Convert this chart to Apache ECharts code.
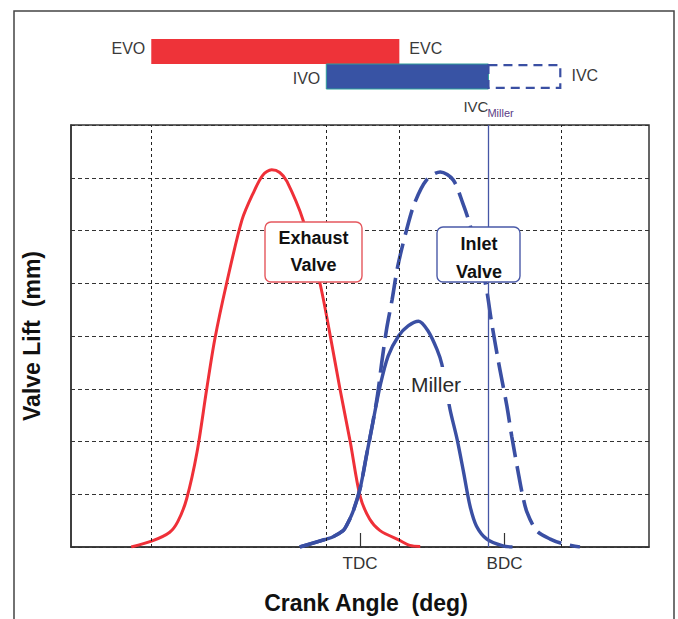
<!DOCTYPE html>
<html><head><meta charset="utf-8">
<script src="https://cdn.jsdelivr.net/npm/echarts@6/dist/echarts.min.js"></script>
<style>html,body{margin:0;padding:0;background:#fff}#c{width:678px;height:619px}</style>
</head><body><div id="c"></div>
<script>
// ---- data (crank angle in degrees, TDC = 0; valve lift in mm) ----
const exhaustAngle = [-285,-258,-237,-227,-216,-203,-191,-181,-166,-147,-133,-121,-110,-100,-91,-71,-50,-37,-25,-12,0,12,25,50,62,75];
const exhaustLift  = [0,0.12,0.28,0.48,0.91,1.8,2.99,3.93,5.01,6.2,6.71,7.05,7.15,7.1,6.93,6.2,5.01,4.0,3.0,1.98,0.97,0.53,0.31,0.12,0.03,0.01];

const inletAngle = [-75,-42,-34,-21,-17,-9,0,8,16,22,27,33,40,47,58,68,83,100,116,128,137,156,164,172,177,183,189,197,202,208,220,237,253,274];
const inletLift  = [0,0.15,0.19,0.31,0.40,0.66,1.10,1.73,2.36,2.9,3.49,4.12,4.69,5.32,6.01,6.52,6.96,7.11,6.96,6.52,6.11,5.01,4.25,3.55,3.15,2.67,2.1,1.42,1.02,0.66,0.31,0.15,0.06,0];

const millerAngle = [-75,-42,-34,-21,-17,-9,0,8,16,25,35,48,60,73,85,96,102,112,121,129,137,145,158,178,190];
const millerLift  = [0,0.15,0.19,0.31,0.40,0.66,1.10,1.73,2.36,3.05,3.62,4.0,4.19,4.28,4.09,3.74,3.46,2.62,2.04,1.42,0.78,0.40,0.15,0.02,0];

const eventNames  = ['EVO','EVC','IVO','IVC_Miller','IVC'];
const eventAngles = [-260, 49, -42, 160, 251];

const tickLabels = ['TDC','BDC'];
const tickAngles = [0, 180];

// ---- helpers ----
const FONT = "'Liberation Sans', Arial, sans-serif";
const ang = n => eventAngles[eventNames.indexOf(n)];
const zip = (a, b) => a.map((v, i) => [v, b[i]]);

// bars: [start, end, row, leftLabel, rightLabel, kind]
const barData = [
  [ang('EVO'), ang('EVC'), 0, 'EVO', 'EVC', 'exh'],
  [ang('IVO'), ang('IVC_Miller'), 1, 'IVO', '', 'inl'],
  [ang('IVC_Miller'), ang('IVC'), 1, '', 'IVC', 'ext']
];

function labelStyle(text, align, size, color, weight) {
  return {text, fill: color || '#3a3a3a', font: (weight ? weight + ' ' : '') + size + 'px ' + FONT,
          align, textAlign: align, verticalAlign: 'middle', textVerticalAlign: 'middle'};
}

function renderBar(params, api) {
  const d = barData[params.dataIndex];
  const p0 = api.coord([d[0], d[2]]);
  const p1 = api.coord([d[1], d[2]]);
  const h = api.size([0, 1])[1];
  const y0 = p0[1] - h / 2;
  const children = [];
  let style, inset = 0;
  if (d[5] === 'exh') style = {fill: '#EE3339'};
  else if (d[5] === 'inl') style = {fill: '#3853A4', stroke: '#2E9E9A', lineWidth: 1};
  else { style = {fill: 'none', stroke: '#3A4FA3', lineWidth: 2.2, lineDash: [9, 6]}; inset = 1.2; }
  children.push({type: 'rect', shape: {x: p0[0], y: y0 + inset, width: p1[0] - p0[0] - inset, height: h - 2 * inset}, style});
  const dy = d[2] === 0 ? -3 : 0;
  if (d[3]) children.push({type: 'text', x: p0[0] - 6, y: p0[1] + dy + (d[2] ? 1.5 : 0), style: labelStyle(d[3], 'right', 16)});
  if (d[4]) children.push({type: 'text', x: p1[0] + 10, y: p1[1] + dy - (d[2] ? 1.5 : 0), style: labelStyle(d[4], 'left', 16)});
  if (d[5] === 'inl') {
    children.push({type: 'text', x: p1[0], y: y0 + h + 17, style: labelStyle('IVC', 'right', 15)});
    children.push({type: 'text', x: p1[0] - 1, y: y0 + h + 23.5, style: labelStyle('Miller', 'left', 11, '#5b3b85')});
  }
  return {type: 'group', children};
}

const chart = echarts.init(document.getElementById('c'), null, {renderer: 'svg'});

const Z = 100;
const option = {
  animation: false,
  backgroundColor: '#fff',
  textStyle: {fontFamily: FONT},
  grid: [
    {left: 71, right: 29, top: 125, bottom: 71, show: true, borderColor: '#333', borderWidth: 1.5, backgroundColor: 'transparent'},
    {left: 71, right: 29, top: 39, height: 50, show: false}
  ],
  xAxis: [
    {
      type: 'value', gridIndex: 0, min: -360, max: 360,
      name: 'Crank Angle  (deg)', nameLocation: 'middle', nameGap: 44,
      nameTextStyle: {fontSize: 23, fontWeight: 'bold', color: '#111', fontFamily: FONT, padding: [0, 0, 0, 12]},
      axisLine: {show: true, onZero: false, lineStyle: {color: '#333', width: 1.5}},
      axisTick: {show: true, inside: true, length: 14, customValues: tickAngles, lineStyle: {color: '#333', width: 1.2}},
      axisLabel: {show: true, customValues: tickAngles, margin: 8, fontSize: 17, color: '#333',
                  formatter: v => tickLabels[tickAngles.indexOf(v)] || ''},
      splitLine: {show: false}
    },
    {type: 'value', gridIndex: 1, min: -360, max: 360, show: false}
  ],
  yAxis: [
    {
      type: 'value', gridIndex: 0, min: 0, max: 8, interval: 1,
      name: 'Valve Lift  (mm)', nameLocation: 'middle', nameGap: 28,
      nameTextStyle: {fontSize: 23, fontWeight: 'bold', color: '#111', fontFamily: FONT},
      axisLine: {show: true, onZero: false, lineStyle: {color: '#333', width: 1.5}},
      axisTick: {show: false}, axisLabel: {show: false},
      splitLine: {show: true, lineStyle: {color: '#333', width: 1, type: [4, 3]}}
    },
    {type: 'category', gridIndex: 1, data: ['EV', 'IV'], inverse: true, show: false}
  ],
  series: [
    {
      name: 'grid events', type: 'line', xAxisIndex: 0, yAxisIndex: 0, data: [], z: 1, silent: true,
      markLine: {
        silent: true, symbol: ['none', 'none'], label: {show: false},
        lineStyle: {type: [3, 3], color: '#222', width: 1},
        data: ['EVO', 'EVC', 'IVO', 'IVC'].map(n => ({xAxis: ang(n)}))
      }
    },
    {
      name: 'IVC Miller', type: 'line', xAxisIndex: 0, yAxisIndex: 0, data: [], z: 2, silent: true,
      markLine: {
        silent: true, symbol: ['none', 'none'], label: {show: false},
        lineStyle: {type: 'solid', color: '#4656A6', width: 1.3},
        data: [{xAxis: ang('IVC_Miller')}]
      }
    },
    {
      name: 'Exhaust Valve', type: 'line', xAxisIndex: 0, yAxisIndex: 0, z: 3,
      data: zip(exhaustAngle, exhaustLift), showSymbol: false, smooth: 0.3,
      lineStyle: {color: '#EF3038', width: 3}
    },
    {
      name: 'Inlet Valve', type: 'line', xAxisIndex: 0, yAxisIndex: 0, z: 4,
      data: zip(inletAngle, inletLift), showSymbol: false, smooth: 0.3,
      lineStyle: {color: '#3A4FA3', width: 3.6, type: [26, 9]}
    },
    {
      name: 'Miller', type: 'line', xAxisIndex: 0, yAxisIndex: 0, z: 4,
      data: zip(millerAngle, millerLift), showSymbol: false, smooth: 0.3,
      lineStyle: {color: '#3A4FA3', width: 3.4}
    },
    {
      name: 'timing', type: 'custom', coordinateSystem: 'cartesian2d', xAxisIndex: 1, yAxisIndex: 1,
      renderItem: renderBar, encode: {x: [0, 1], y: 2},
      data: barData.map(d => [d[0], d[1], d[2]]), silent: true, clip: false
    }
  ],
  graphic: {
    elements: [
      {type: 'rect', silent: true, z: 0, shape: {x: 14, y: 11, width: 660, height: 650},
       style: {fill: 'none', stroke: '#444', lineWidth: 1.5}},
      {type: 'rect', z: Z, silent: true, shape: {x: 265, y: 222, width: 97, height: 60, r: 6},
       style: {fill: '#fff', stroke: '#E5575D', lineWidth: 1.4}},
      {type: 'text', z: Z + 1, silent: true, x: 313.5, y: 238, style: labelStyle('Exhaust', 'center', 18, '#111', 'bold')},
      {type: 'text', z: Z + 1, silent: true, x: 313.5, y: 264.5, style: labelStyle('Valve', 'center', 18, '#111', 'bold')},
      {type: 'rect', z: Z, silent: true, shape: {x: 437, y: 227, width: 83, height: 55, r: 6},
       style: {fill: '#fff', stroke: '#4A5AA8', lineWidth: 1.4}},
      {type: 'text', z: Z + 1, silent: true, x: 479, y: 243.5, style: labelStyle('Inlet', 'center', 18, '#111', 'bold')},
      {type: 'text', z: Z + 1, silent: true, x: 479, y: 271.5, style: labelStyle('Valve', 'center', 18, '#111', 'bold')},
      {type: 'rect', z: Z, silent: true, shape: {x: 409, y: 367, width: 55, height: 37}, style: {fill: '#fff'}},
      {type: 'text', z: Z + 1, silent: true, x: 436, y: 384, style: labelStyle('Miller', 'center', 21, '#2b2b2b')}
    ]
  }
};
chart.setOption(option);
</script>
</body></html>
